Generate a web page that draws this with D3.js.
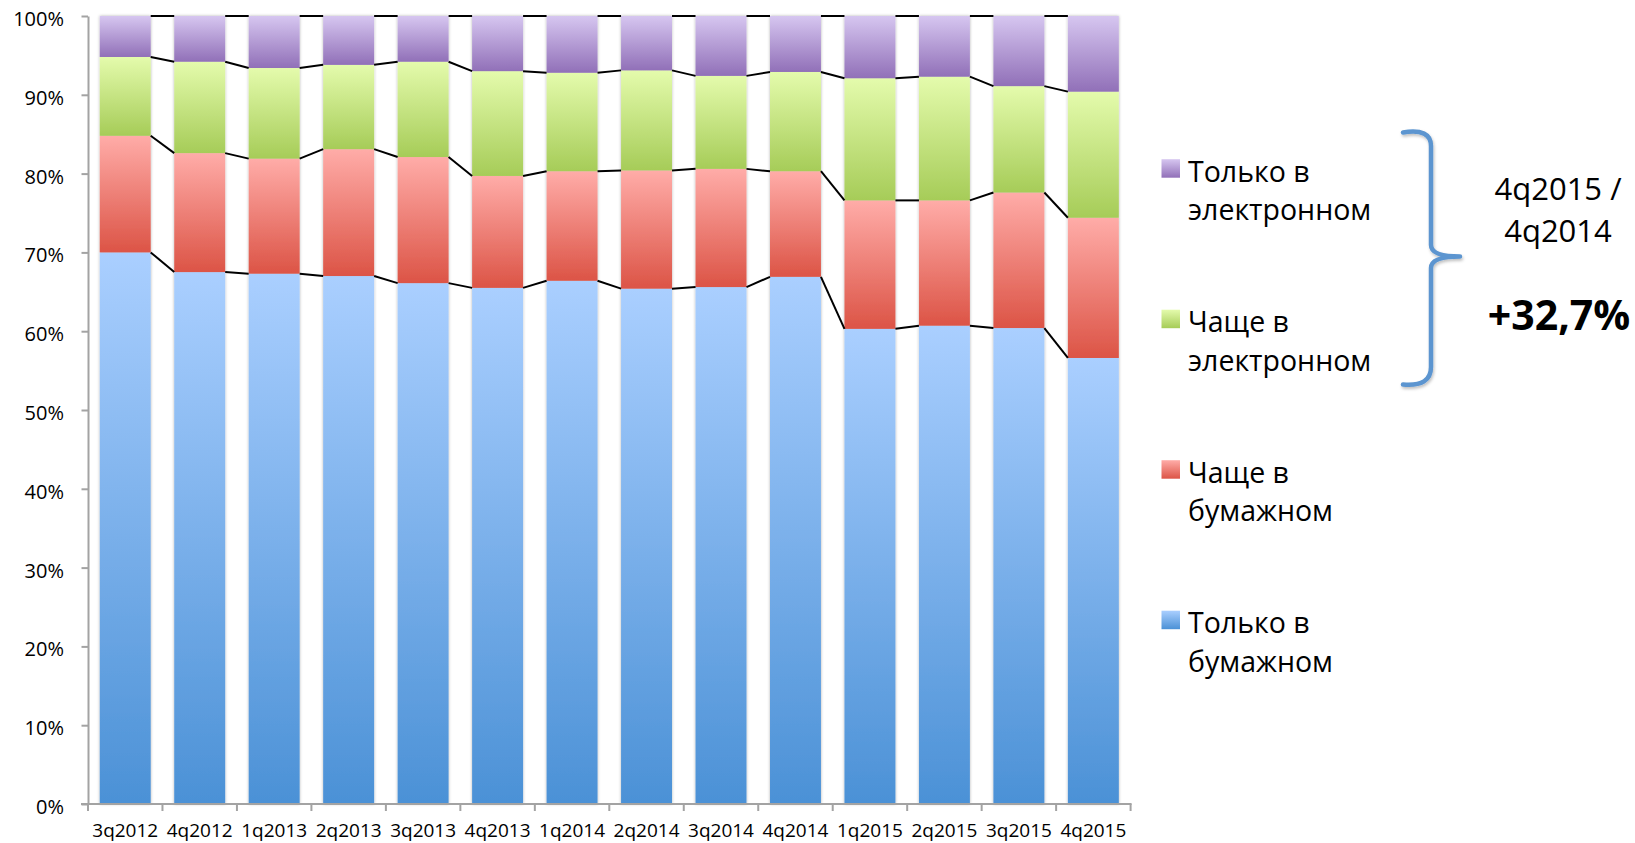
<!DOCTYPE html>
<html><head><meta charset="utf-8">
<script src="https://cdn.jsdelivr.net/npm/d3@7"></script>
<style>
body{margin:0;background:#fff}
svg{display:block}
text{font-family:"Open Sans",sans-serif;fill:#000}
</style>
</head><body>
<svg id="c" width="1635" height="843"></svg>
<script>
// ---- data ----
const categories = ["3q2012","4q2012","1q2013","2q2013","3q2013","4q2013","1q2014","2q2014","3q2014","4q2014","1q2015","2q2015","3q2015","4q2015"];
const onlyPaper      = [70.0, 67.5, 67.3, 67.0, 66.1, 65.5, 66.4, 65.4, 65.6, 66.9, 60.3, 60.7, 60.4, 56.6];
const morePaper      = [14.8, 15.1, 14.6, 16.1, 16.0, 14.2, 13.9, 15.0, 15.0, 13.4, 16.3, 15.9, 17.2, 17.8];
const moreElectronic = [10.0, 11.6, 11.5, 10.7, 12.1, 13.3, 12.5, 12.7, 11.8, 12.6, 15.5, 15.7, 13.5, 16.0];
const onlyElectronic = [ 5.2,  5.8,  6.6,  6.2,  5.8,  7.0,  7.2,  6.9,  7.6,  7.1,  7.9,  7.7,  8.9,  9.6];
const seriesKeys   = ["onlyPaper","morePaper","moreElectronic","onlyElectronic"];
const seriesNames  = [["Только в","бумажном"],["Чаще в","бумажном"],["Чаще в","электронном"],["Только в","электронном"]];
const yTickValues  = [0,10,20,30,40,50,60,70,80,90,100];
const noteLines    = ["4q2015 /","4q2014"];
const noteValue    = "+32,7%";

// ---- styles ----
const grads = {
  onlyPaper:      ["#aacfff","#4b91d6"],
  morePaper:      ["#ffaca8","#dc5446"],
  moreElectronic: ["#e4fbac","#a6cc58"],
  onlyElectronic: ["#d6c6f0","#9170b8"]
};

const table = categories.map((c,i)=>({cat:c, onlyPaper:onlyPaper[i], morePaper:morePaper[i], moreElectronic:moreElectronic[i], onlyElectronic:onlyElectronic[i]}));
const stacked = d3.stack().keys(seriesKeys)(table);

const svg = d3.select("#c");
const defs = svg.append("defs");
seriesKeys.forEach(k=>{
  const g = defs.append("linearGradient").attr("id","g_"+k).attr("x1",0).attr("y1",0).attr("x2",0).attr("y2",1);
  g.append("stop").attr("offset","0%").attr("stop-color",grads[k][0]);
  g.append("stop").attr("offset","100%").attr("stop-color",grads[k][1]);
});
const f = defs.append("filter").attr("id","sh").attr("x","-20%").attr("y","-5%").attr("width","140%").attr("height","110%");
f.append("feDropShadow").attr("dx",0).attr("dy",0).attr("stdDeviation",1.4).attr("flood-color","#000").attr("flood-opacity",0.3);
const f2 = defs.append("filter").attr("id","sh2").attr("x","-50%").attr("y","-10%").attr("width","200%").attr("height","120%");
f2.append("feDropShadow").attr("dx",1).attr("dy",2).attr("stdDeviation",1.5).attr("flood-color","#000").attr("flood-opacity",0.25);

const x = d3.scaleBand().domain(categories).range([88,1130.6]).paddingInner(0.316).paddingOuter(0.158);
const y = d3.scaleLinear().domain([0,100]).range([804,16]);
const bw = x.bandwidth();

// bars
const cols = svg.append("g").selectAll("g.col").data(categories).join("g").attr("filter","url(#sh)");
cols.each(function(c,i){
  const g = d3.select(this);
  stacked.forEach(layer=>{
    const d = layer[i];
    g.append("rect").attr("x",x(c)).attr("width",bw)
      .attr("y",y(d[1])).attr("height",y(d[0])-y(d[1]))
      .attr("fill","url(#g_"+layer.key+")");
  });
});

// series lines
const sl = svg.append("g").attr("stroke","#000").attr("stroke-width",2).attr("fill","none");
stacked.forEach(layer=>{
  for(let i=0;i<categories.length-1;i++){
    sl.append("line")
      .attr("x1",x(categories[i])+bw).attr("y1",y(layer[i][1]))
      .attr("x2",x(categories[i+1])).attr("y2",y(layer[i+1][1]));
  }
});

// axes
const axCol = "#a3a3a3";
const yAxis = svg.append("g").attr("transform","translate(88,0)")
  .call(d3.axisLeft(y).tickValues(yTickValues).tickFormat(d=>d+"%").tickSize(6.5).tickSizeOuter(0).tickPadding(17.5));
yAxis.select(".domain").attr("stroke",axCol).attr("stroke-width",2);
yAxis.selectAll(".tick line").attr("stroke",axCol).attr("stroke-width",2);
yAxis.selectAll("text").attr("font-size",20).attr("dy","0.47em").attr("font-family","Open Sans");

const xAxis = svg.append("g").attr("transform","translate(0,804)")
  .call(d3.axisBottom(x).tickSize(0).tickSizeOuter(0));
xAxis.select(".domain").remove();
xAxis.selectAll("text").attr("font-size",19).attr("y",33).attr("dy",0).attr("font-family","Open Sans");
const step = x.step(), r0 = x.range()[0];
const bounds = d3.range(categories.length+1).map(i=>r0+i*step);
const xg = svg.append("g").attr("stroke",axCol).attr("stroke-width",2);
xg.append("line").attr("x1",r0-7).attr("x2",x.range()[1]+1).attr("y1",804).attr("y2",804);
bounds.forEach(b=>xg.append("line").attr("x1",b).attr("x2",b).attr("y1",804).attr("y2",811));

// legend
const legendOrder = [3,2,1,0];
const lg = svg.append("g");
legendOrder.forEach((si,j)=>{
  const base = 181.7 + j*150.5;
  lg.append("rect").attr("x",1161.5).attr("y",base-22.5).attr("width",18.5).attr("height",18.5).attr("fill","url(#g_"+seriesKeys[si]+")");
  const t = lg.append("text").attr("x",1188).attr("y",base).attr("font-size",28.5);
  seriesNames[si].forEach((ln,k)=>t.append("tspan").attr("x",1188).attr("y",base+k*38.5).text(ln));
});

// brace
svg.append("path")
  .attr("d","M1403,132.5 Q1431,128 1431,146 L1431,245 Q1431,256.5 1460,256.5 Q1431,256.5 1431,268 L1431,367 Q1431,387 1403,384.5")
  .attr("fill","none").attr("stroke","#5c95d0").attr("stroke-width",4.5).attr("stroke-linecap","round").attr("stroke-linejoin","round")
  .attr("filter","url(#sh2)");

// note
const nt = svg.append("g").attr("text-anchor","middle");
noteLines.forEach((ln,k)=>nt.append("text").attr("x",1558).attr("y",200+k*42).attr("font-size",31).text(ln));
nt.append("text").attr("x",1559).attr("y",330).attr("font-size",41).attr("font-weight","bold").text(noteValue);
</script>
</body></html>
